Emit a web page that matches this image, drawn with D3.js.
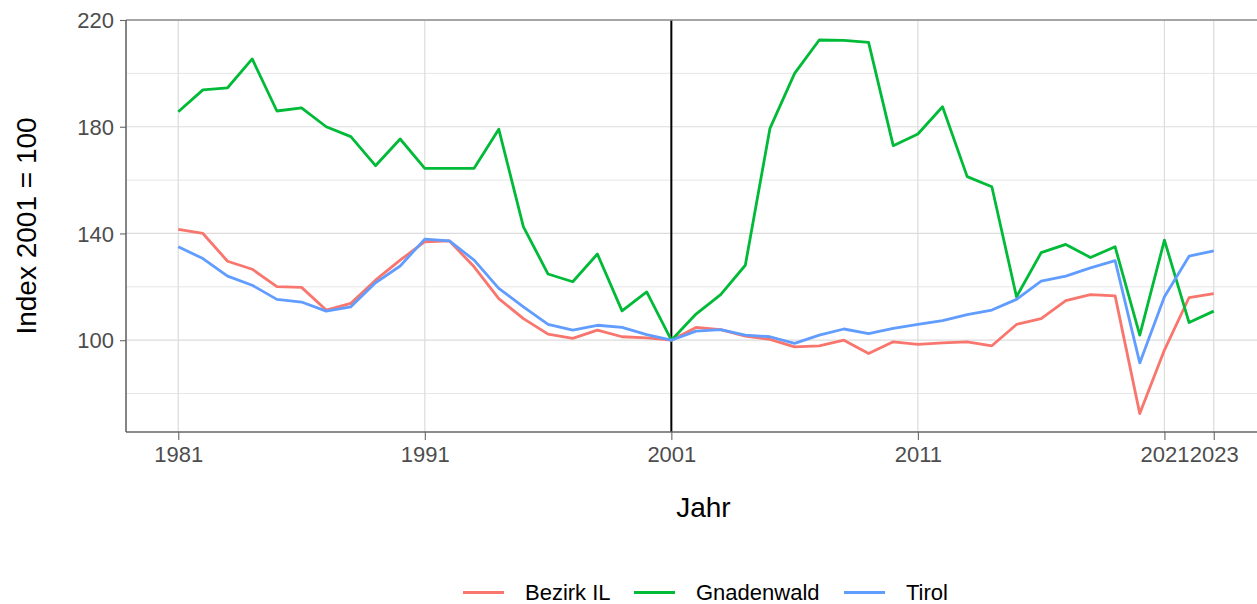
<!DOCTYPE html>
<html>
<head>
<meta charset="utf-8">
<script src="https://cdn.jsdelivr.net/npm/d3@7"></script>
<style>
  html, body { margin: 0; padding: 0; background: #ffffff; }
  svg { display: block; font-family: "Liberation Sans", Arial, sans-serif; }
</style>
</head>
<body>
<svg id="chart" width="1257" height="604"></svg>
<script>
const years = d3.range(1981, 2024);
const seriesNames = ["Bezirk IL", "Gnadenwald", "Tirol"];
const seriesColors = ["#F8766D", "#00BA38", "#619CFF"];
const bezirkIL = [141.5, 140.0, 129.6, 126.6, 120.1, 119.8, 111.3, 113.8, 122.5, 130.0,
  136.9, 137.2, 127.5, 115.6, 108.1, 102.3, 100.7, 103.8, 101.3, 100.9,
  100.0, 104.8, 104.0, 101.5, 100.3, 97.5, 97.9, 100.0, 95.0, 99.4,
  98.4, 99.0, 99.4, 97.9, 105.9, 108.1, 114.8, 117.1, 116.6, 72.5,
  96.3, 116.0, 117.5];
const gnadenwald = [185.6, 193.8, 194.6, 205.4, 185.9, 187.1, 180.0, 176.3, 165.4, 175.4,
  164.4, 164.4, 164.4, 179.1, 142.5, 124.8, 121.9, 132.3, 111.0, 118.1,
  100.0, 109.8, 117.1, 128.1, 179.4, 200.0, 212.5, 212.4, 211.6, 172.9,
  177.3, 187.5, 161.3, 157.5, 116.3, 132.8, 135.9, 131.0, 135.0, 101.9,
  137.5, 106.6, 110.9];
const tirol = [135.0, 130.6, 124.0, 120.6, 115.3, 114.3, 110.9, 112.5, 121.5, 127.8,
  137.9, 137.2, 130.0, 119.4, 112.5, 105.9, 103.8, 105.6, 104.8, 102.1,
  100.0, 103.4, 104.0, 101.9, 101.3, 98.8, 101.9, 104.2, 102.5, 104.4,
  105.9, 107.3, 109.6, 111.3, 115.3, 122.1, 124.0, 127.1, 129.8, 91.5,
  116.3, 131.5, 133.5];
const xTicks = [1981, 1991, 2001, 2011, 2021, 2023];
const yMajorTicks = [100, 140, 180, 220];
const yMinorTicks = [80, 120, 160, 200];
const refYear = 2001;

(function () {
const svg = d3.select("#chart");
const pLeft = 126, pTop = 20, pBottom = 432;
const x = d3.scaleLinear().domain([1978.88, 2025.12]).range([pLeft, 1266]);
const y = d3.scaleLinear().domain([65.6, 220]).range([pBottom, pTop]);
const pRight = x.range()[1];

// grid
svg.append("g").selectAll("line").data(yMinorTicks).join("line")
  .attr("x1", pLeft).attr("x2", pRight).attr("y1", d => y(d)).attr("y2", d => y(d))
  .attr("stroke", "#e6e6e6").attr("stroke-width", 1);
svg.append("g").selectAll("line").data(yMajorTicks).join("line")
  .attr("x1", pLeft).attr("x2", pRight).attr("y1", d => y(d)).attr("y2", d => y(d))
  .attr("stroke", "#dcdcdc").attr("stroke-width", 1.2);
svg.append("g").selectAll("line").data(xTicks).join("line")
  .attr("x1", d => x(d)).attr("x2", d => x(d)).attr("y1", pTop).attr("y2", pBottom)
  .attr("stroke", "#dcdcdc").attr("stroke-width", 1.2);

// reference line
svg.append("line").attr("x1", x(refYear)).attr("x2", x(refYear))
  .attr("y1", pTop).attr("y2", pBottom).attr("stroke", "#000").attr("stroke-width", 2);

// series
const allSeries = [bezirkIL, gnadenwald, tirol];
const line = d3.line().x((d, i) => x(years[i])).y(d => y(d));
allSeries.forEach((vals, k) => {
  svg.append("path").datum(vals).attr("d", line)
    .attr("fill", "none").attr("stroke", seriesColors[k]).attr("stroke-width", 2.8)
    .attr("stroke-linejoin", "round");
});

// border top
svg.append("line").attr("x1", pLeft).attr("x2", pRight).attr("y1", pTop).attr("y2", pTop)
  .attr("stroke", "#8c8c8c").attr("stroke-width", 1.5);

// axes
const xAxis = svg.append("g").attr("transform", `translate(0,${pBottom})`)
  .call(d3.axisBottom(x).tickValues(xTicks).tickFormat(d3.format("d")).tickSize(8).tickPadding(6).tickSizeOuter(0));
const yAxis = svg.append("g").attr("transform", `translate(${pLeft},0)`)
  .call(d3.axisLeft(y).tickValues(yMajorTicks).tickFormat(d3.format("d")).tickSize(6).tickPadding(6).tickSizeOuter(0));
[xAxis, yAxis].forEach(g => {
  g.select(".domain").attr("stroke", "#666666").attr("stroke-width", 1.6);
  g.selectAll(".tick line").attr("stroke", "#666666").attr("stroke-width", 1.1);
  g.selectAll(".tick text").attr("fill", "#4d4d4d").style("font-size", "22px")
    .style("font-family", "'Liberation Sans', Arial, sans-serif");
});
yAxis.selectAll(".tick text").attr("dy", "0.35em");
yAxis.select(".domain").attr("d", `M0,${pTop}V${pBottom}`);
xAxis.select(".domain").attr("d", `M${pLeft},0H${pRight}`);

// titles
svg.append("text").attr("x", x(2002.3)).attr("y", 517).attr("text-anchor", "middle")
  .style("font-size", "28px").attr("fill", "#000").text("Jahr");
svg.append("text").attr("transform", `translate(36,${(pTop + pBottom) / 2}) rotate(-90)`)
  .attr("text-anchor", "middle").style("font-size", "28px").attr("fill", "#000")
  .text("Index 2001 = 100");

// legend
const legendX = [463, 634, 844];
const lg = svg.append("g");
seriesNames.forEach((name, k) => {
  lg.append("line").attr("x1", legendX[k]).attr("x2", legendX[k] + 41)
    .attr("y1", 592.5).attr("y2", 592.5).attr("stroke", seriesColors[k]).attr("stroke-width", 2.8);
  lg.append("text").attr("x", legendX[k] + 62).attr("y", 600)
    .style("font-size", "22px").attr("fill", "#000").text(name);
});
})();
</script>
</body>
</html>
